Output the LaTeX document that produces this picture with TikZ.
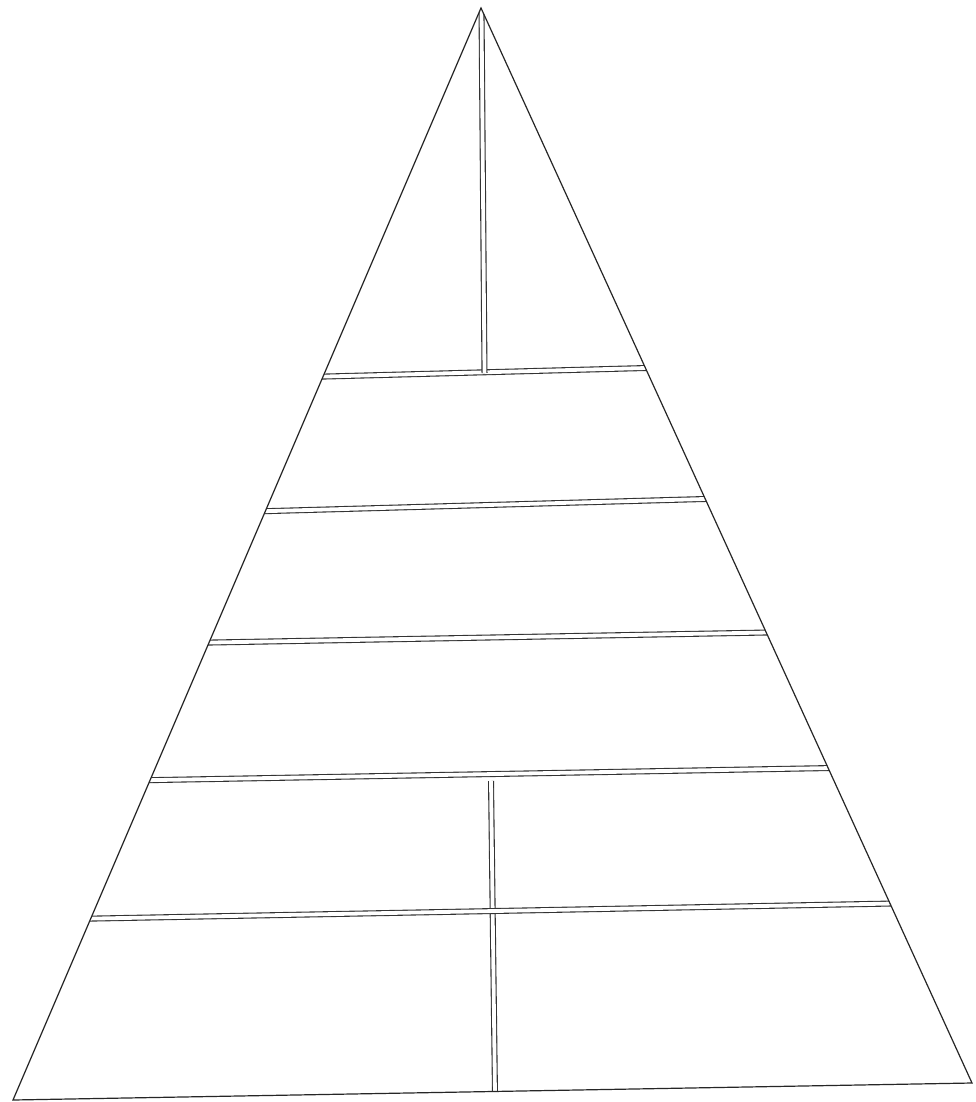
\documentclass[tikz,border=0pt]{standalone}
\begin{document}
\begin{tikzpicture}[x=1pt,y=-1pt,
  outline/.style={draw=black!85, line width=1.2pt, line join=miter},
  dbl/.style={draw=black!80, line width=1.1pt, double=white, double distance=3.8pt}]
\useasboundingbox[fill=white] (0,0) rectangle (975,1102);
\coordinate (apex) at (481,8);
\coordinate (bl) at (13,1100);
\coordinate (br) at (972,1083);
\begin{scope}
\clip (apex) -- (bl) -- (br) -- cycle;
\draw[dbl] (300,377.2) -- (680,367.1);
\draw[dbl] (250,511.6) -- (730,498.3);
\draw[dbl] (190,642.9) -- (790,632.1);
\draw[dbl] (130,780.5) -- (860,767.5);
\draw[dbl] (481.5,10) -- (484.5,373);
\draw[dbl] (491,781) -- (495,1095);
\draw[dbl] (70,919) -- (920,903);
\end{scope}
\draw[outline] (apex) -- (bl) -- (br) -- cycle;
\end{tikzpicture}
\end{document}
